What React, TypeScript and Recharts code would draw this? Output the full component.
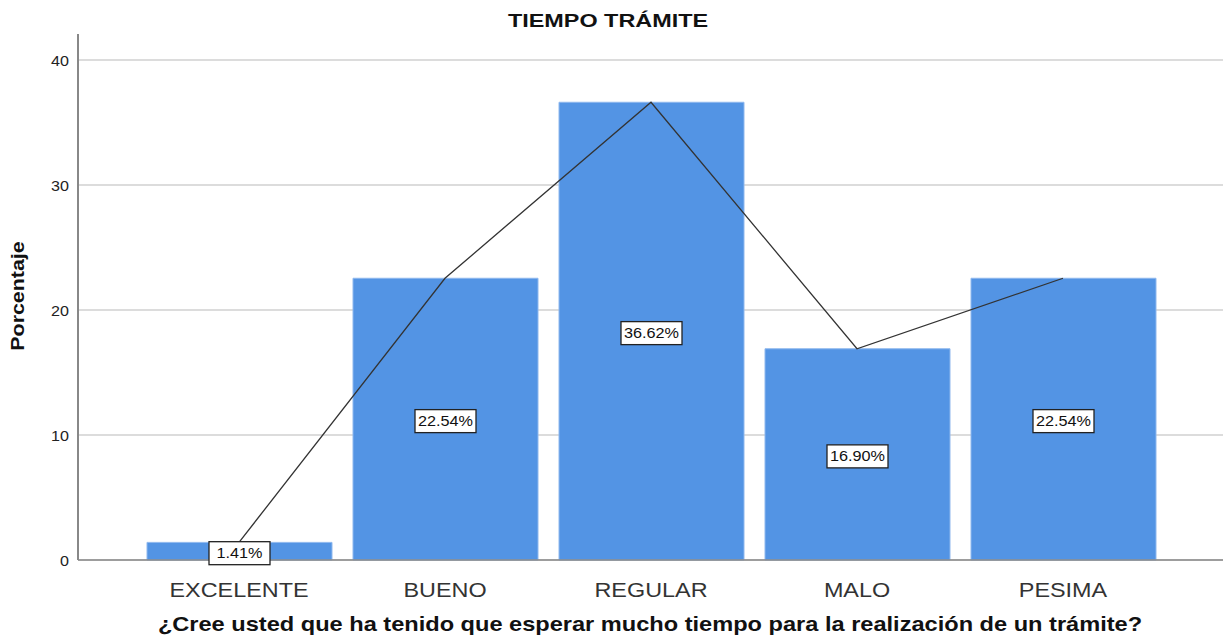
import { ComposedChart, Bar, Line, XAxis, YAxis, CartesianGrid, LabelList } from 'recharts'

const categories = ['EXCELENTE', 'BUENO', 'REGULAR', 'MALO', 'PESIMA']
const percents = [1.41, 22.54, 36.62, 16.9, 22.54]
const yTicks = [0, 10, 20, 30, 40]

const data = categories.map((name, i) => ({ name, value: percents[i] }))

const FONT = '"Liberation Sans", Arial, sans-serif'

// the reference text is drawn a bit wider than plain Arial, so stretch it horizontally
function Stretch(props: any) {
  const { x, y, sx = 1, rotate = 0, anchor = 'middle', size, bold, fill = '#111', children } = props
  return (
    <text
      transform={`translate(${x},${y}) rotate(${rotate}) scale(${sx},1)`}
      textAnchor={anchor}
      fontSize={size}
      fontWeight={bold ? 'bold' : 'normal'}
      fontFamily={FONT}
      fill={fill}
    >
      {children}
    </text>
  )
}

function XTick(props: any) {
  const { x, y, payload } = props
  return (
    <Stretch x={x} y={y + 29} sx={1.17} size={20} fill="#333">
      {payload.value}
    </Stretch>
  )
}

function YTick(props: any) {
  const { x, y, payload } = props
  return (
    <Stretch x={x + 3} y={y + 6} sx={1.15} size={14} anchor="end" fill="#222">
      {payload.value}
    </Stretch>
  )
}

function BoxLabel(props: any) {
  const { x, y, width, height, value } = props
  const cx = x + width / 2
  const cy = y + height / 2 + 2
  const text = `${Number(value).toFixed(2)}%`
  return (
    <g>
      <rect x={cx - 30.5} y={cy - 11.5} width={61} height={23} fill="#fff" stroke="#222" strokeWidth={1.3} />
      <Stretch x={cx} y={cy + 5} sx={1.12} size={14.5} fill="#111">
        {text}
      </Stretch>
    </g>
  )
}

export default function App() {
  return (
    <div style={{ position: 'absolute', left: 0, top: 0, background: '#fff' }}>
      <ComposedChart width={1223} height={641} data={data} margin={{ top: 34, right: 0, left: 0, bottom: 0 }}>
        <Stretch x={608} y={27} sx={1.3} size={18} bold>
          TIEMPO TRÁMITE
        </Stretch>
        <Stretch x={650} y={631} sx={1.18} size={20} bold>
          ¿Cree usted que ha tenido que esperar mucho tiempo para la realización de un trámite?
        </Stretch>
        <Stretch x={24} y={296} rotate={-90} sx={1.19} size={18} bold>
          Porcentaje
        </Stretch>
        <CartesianGrid vertical={false} horizontalValues={yTicks} stroke="#d0d0d0" strokeWidth={1.5} />
        <XAxis
          dataKey="name"
          padding={{ left: 58, right: 57 }}
          height={81}
          tickLine={false}
          axisLine={{ stroke: '#888', strokeWidth: 1.5 }}
          tick={<XTick />}
        />
        <YAxis
          width={78}
          domain={[0, 42.08]}
          ticks={yTicks}
          tickLine={false}
          axisLine={{ stroke: '#888', strokeWidth: 2 }}
          tick={<YTick />}
          tickMargin={6}
        />
        <Bar dataKey="value" fill="#5394e4" stroke="#8fb8ee" strokeWidth={1} barSize={185} isAnimationActive={false}>
          <LabelList dataKey="value" content={BoxLabel} />
        </Bar>
        <Line type="linear" dataKey="value" stroke="#333" strokeWidth={1.3} dot={false} isAnimationActive={false} />
      </ComposedChart>
    </div>
  )
}
